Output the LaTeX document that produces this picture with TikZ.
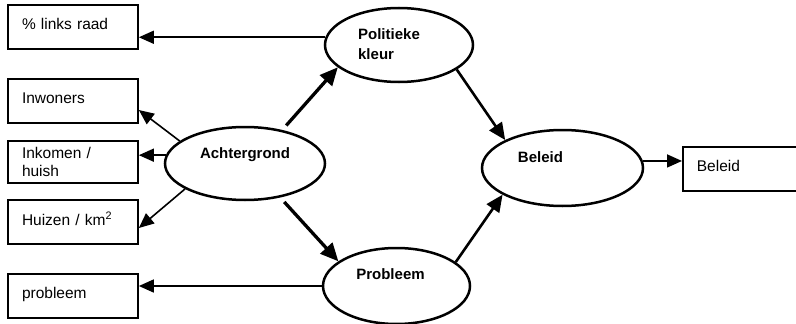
\documentclass[tikz,border=0pt]{standalone}
\usepackage{fontspec}
\setmainfont{Liberation Sans}
\usetikzlibrary{arrows.meta,shapes.geometric}
\begin{document}
\begin{tikzpicture}[x=1pt,y=-1pt,
  box/.style={draw, line width=1.7pt, rectangle, minimum width=130pt, minimum height=44pt,
    inner xsep=14pt, text width=102pt, align=left, font=\fontsize{15.5}{18}\selectfont, text depth=6.5pt},
  ell/.style={draw, ellipse, line width=2.5pt, inner sep=0pt},
  etext/.style={font=\bfseries\fontsize{15}{20}\selectfont, inner sep=0pt},
  thinarr/.style={line width=1.6pt, -{Triangle[length=15pt,width=13pt]}},
  medarr/.style={line width=2.6pt, -{Triangle[length=17pt,width=15pt]}},
  thickarr/.style={line width=3.3pt, -{Triangle[length=18pt,width=16pt]}}]
\useasboundingbox (0,0) rectangle (796,324);

% ellipses
\node[ell, minimum width=148pt, minimum height=74pt,
  label={[etext,align=left,xshift=-10pt,yshift=1pt]center:Politieke\\kleur}] (pol) at (399,45) {};
\node[ell, minimum width=160pt, minimum height=73pt,
  label={[etext,yshift=9pt]center:Achtergrond}] (acht) at (245,163.5) {};
\node[ell, minimum width=161pt, minimum height=76pt,
  label={[etext,xshift=-22pt,yshift=11pt]center:Beleid}] (bel) at (562.5,168) {};
\node[ell, minimum width=147pt, minimum height=76pt,
  label={[etext,xshift=-6pt,yshift=12pt]center:Probleem}] (prob) at (396.5,286) {};

% boxes
\node[box] (links) at (73,27) {\% links raad};
\node[box] (inw) at (73,101) {Inwoners};
\node[box, minimum height=42pt, text depth=] (ink) at (73,162) {Inkomen /\\huish};
\node[box] (huiz) at (73,222) {Huizen / km\textsuperscript{2}};
\node[box] (probbox) at (73,296) {probleem};
\node[box, anchor=west] (belbox) at (682,169) {Beleid};

% connectors
\draw[thinarr] (pol.174) -- (links.east |- pol.174);
\draw[thinarr] (acht.161) -- ([yshift=-9pt]inw.east);
\draw[thinarr] (acht.174) -- (ink.east |- acht.174);
\draw[thinarr] (acht.203) -- ([yshift=-6pt]huiz.east);
\draw[thickarr, shorten <=6pt] (acht.42) -- (pol.200);
\draw[thickarr, shorten <=6pt] (acht.316) -- (prob.157);
\draw[medarr] (pol.337) -- (bel.154);
\draw[medarr] (prob.22) -- (bel.204);
\draw[thinarr] (bel.5) -- (belbox.west |- bel.5);
\draw[thinarr] (prob.west) -- (probbox.east |- prob.west);
\end{tikzpicture}
\end{document}
